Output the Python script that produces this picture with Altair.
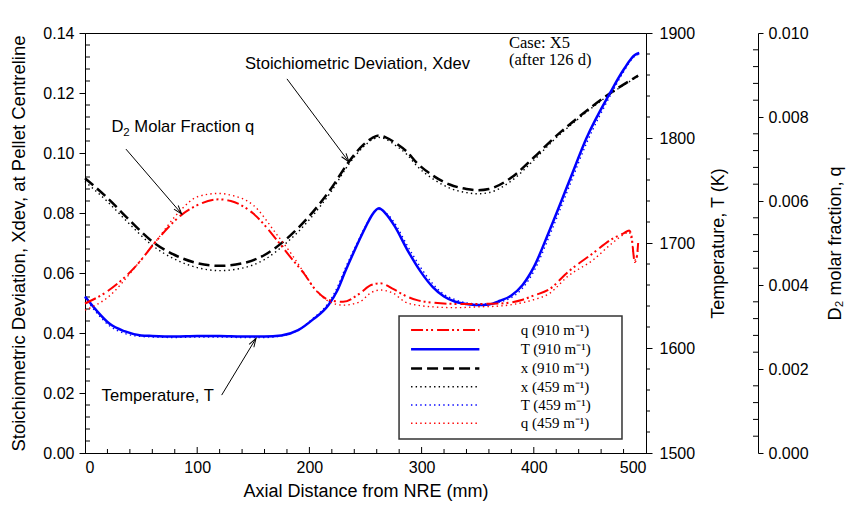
import altair as alt
import pandas as pd

# ---------------- data ----------------
# Stoichiometric deviation Xdev (left axis)
x_xdev = [0, 20, 40, 60, 80, 100, 120, 140, 160, 180, 200, 210, 220, 235, 248, 256,
          262, 268, 278, 287, 296, 310, 325, 340, 350, 360, 380, 400, 418, 440, 468, 493]
xdev_910 = [0.0916, 0.0850, 0.0775, 0.0705, 0.0660, 0.0633, 0.0624, 0.0632, 0.0660, 0.0715,
            0.0790, 0.0835, 0.0885, 0.0970, 0.1027, 0.1050, 0.1058, 0.1052, 0.1030, 0.1004,
            0.0966, 0.0925, 0.0895, 0.0880, 0.0876, 0.0880, 0.0918, 0.0985, 0.1050, 0.1120,
            0.1199, 0.1258]
xdev_459 = [0.0905, 0.0838, 0.0762, 0.0692, 0.0646, 0.0618, 0.0608, 0.0616, 0.0645, 0.0702,
            0.0778, 0.0824, 0.0875, 0.0962, 0.1020, 0.1044, 0.1052, 0.1046, 0.1022, 0.0995,
            0.0956, 0.0914, 0.0883, 0.0868, 0.0864, 0.0868, 0.0907, 0.0976, 0.1044, 0.1115,
            0.1196, 0.1256]

# Temperature T (first right axis)
x_temp = [0, 10, 22, 35, 50, 60, 80, 100, 120, 140, 160, 175, 190, 203, 217, 225, 232, 239,
          250, 256, 262, 268, 276, 287, 299, 310, 320, 330, 340, 350, 360, 370, 380, 390,
          400, 414, 432, 447, 468, 480, 490, 494]
temp_910 = [1649, 1636, 1623, 1616, 1612, 1611.5, 1611, 1611.5, 1611.5, 1611, 1611, 1612,
            1617, 1627, 1641, 1655, 1673, 1690, 1715, 1727, 1733, 1728, 1716, 1694, 1673,
            1658, 1649, 1644, 1642, 1641, 1641.5, 1645, 1650, 1660, 1677, 1712, 1760, 1800,
            1843, 1865, 1879, 1881]
temp_459 = [1648, 1634, 1621, 1614, 1611, 1610.5, 1610, 1610.5, 1610.5, 1610, 1610, 1611.5,
            1617, 1628, 1643, 1658, 1676, 1692, 1716, 1727, 1732, 1729, 1719, 1698, 1677,
            1661, 1651, 1646, 1643, 1642, 1642, 1644, 1648, 1657, 1673, 1707, 1755, 1795,
            1840, 1863, 1878, 1880]

# D2 molar fraction q (second right axis)
x_q = [0, 20, 47, 62, 86, 100, 119, 130, 150, 171, 185, 195, 205, 218, 230, 245, 255, 263,
       275, 285, 296, 310, 330, 350, 370, 390, 400, 414, 430, 453, 470, 480, 485, 487, 490,
       492, 493]
q_910 = [0.00356, 0.00385, 0.0045, 0.0050, 0.00567, 0.0059, 0.00604, 0.0060, 0.0057, 0.00507,
         0.0046, 0.00428, 0.0039, 0.00364, 0.0036, 0.0038, 0.0040, 0.00404, 0.0039, 0.00375,
         0.00364, 0.00358, 0.00355, 0.00355, 0.00356, 0.00365, 0.00375, 0.0039, 0.0043,
         0.00476, 0.0051, 0.00523, 0.0053, 0.00518, 0.00455, 0.0047, 0.0050]
q_459 = [0.0034, 0.0037, 0.0045, 0.0050, 0.0058, 0.0061, 0.00618, 0.00614, 0.0059, 0.0052,
         0.0047, 0.0043, 0.0039, 0.0036, 0.00352, 0.0036, 0.00382, 0.00388, 0.0038, 0.0036,
         0.00352, 0.00348, 0.00346, 0.00348, 0.0035, 0.00358, 0.00365, 0.0038, 0.0042,
         0.0046, 0.0050, 0.0052, 0.00526, 0.0051, 0.0046, 0.0047, 0.0048]

# axis ticks
x_major = [0, 100, 200, 300, 400, 500]
x_minor = [v for v in range(20, 500, 20) if v % 100 != 0]
xdev_major = [0.00, 0.02, 0.04, 0.06, 0.08, 0.10, 0.12, 0.14]
xdev_minor = [round(i * 0.004, 3) for i in range(1, 35) if i % 5 != 0]
temp_major = [1500, 1600, 1700, 1800, 1900]
temp_minor = [v for v in range(1520, 1900, 20) if v % 100 != 0]
q_major = [0.000, 0.002, 0.004, 0.006, 0.008, 0.010]
q_minor = [round(i * 0.0004, 4) for i in range(1, 25) if i % 5 != 0]

# legend
legend_labels = ["q (910 m\u207b\u00b9)", "T (910 m\u207b\u00b9)", "x (910 m\u207b\u00b9)",
                 "x (459 m\u207b\u00b9)", "T (459 m\u207b\u00b9)", "q (459 m\u207b\u00b9)"]
legend_rows = [0.0410, 0.0346, 0.0282, 0.0221, 0.0160, 0.0099]   # Xdev units
legend_line_x = [290.6, 351.5]
legend_text_x = 388.3
legend_box = dict(x=279.9, x2=478.6, v=0.0457, v2=0.0047)

# annotations (x in mm, y in Xdev units)
ann_sans = pd.DataFrame({
    "x": [142.6, 23.6, 44.0, 14.8],
    "v": [0.1297, 0.1087, 0.1087, 0.0190],
    "label": ["Stoichiometric Deviation, Xdev", "D", "Molar Fraction q", "Temperature, T"],
})
ann_sub = pd.DataFrame({"x": [34.0], "v": [0.1066], "label": ["2"]})
ann_case = pd.DataFrame({"x": [377.9, 377.9], "v": [0.1367, 0.1310],
                         "label": ["Case: X5", "(after 126 d)"]})
arrows = pd.DataFrame({
    "x": [180.0, 36.5, 121.8], "v": [0.1247, 0.1013, 0.0193],
    "x2": [235.3, 86.2, 152.4], "v2": [0.0970, 0.0797, 0.0382],
    "ang": [143.2, 139.4, 31.2],
})

# ---------------- chart ----------------
W, H = 561, 420
FONT = "Liberation Sans"
SERIF = "Liberation Serif"
QOFF = 112

X = alt.X("x:Q", scale=alt.Scale(domain=[0, 500], nice=False, zero=False),
          axis=alt.Axis(values=x_major, format="d", ticks=False, labelPadding=6,
                        title="Axial Distance from NRE (mm)", titlePadding=7))

Y_X = alt.Y("v:Q", scale=alt.Scale(domain=[0, 0.14], nice=False, zero=False),
            axis=alt.Axis(orient="left", values=xdev_major, format=".2f", tickSize=6,
                          labelPadding=5,
                          title="Stoichiometric Deviation, Xdev,  at Pellet Centreline",
                          titleX=-67, titleY=H / 2, titleAngle=270, titleAlign="center",
                          titleBaseline="middle", titleFontSize=18.5))
Y_T = alt.Y("v:Q", scale=alt.Scale(domain=[1500, 1900], nice=False, zero=False),
            axis=alt.Axis(orient="right", values=temp_major, format="d", tickSize=6,
                          labelPadding=7, title="Temperature, T (K)",
                          titleX=72, titleY=H / 2, titleAngle=270, titleAlign="center",
                          titleBaseline="middle"))
Y_Q = alt.Y("v:Q", scale=alt.Scale(domain=[0, 0.010], nice=False, zero=False),
            axis=alt.Axis(orient="right", offset=QOFF, values=q_major, format=".3f",
                          tickSize=5, labelPadding=5, title="D\u2082 molar fraction, q",
                          titleX=77, titleY=H / 2, titleAngle=270, titleAlign="center",
                          titleBaseline="middle"))
Y_A = alt.Y("v:Q", scale=alt.Scale(domain=[0, 0.14], nice=False, zero=False), axis=None)

DOT = [1.4, 3.2]
QDASH = [12, 3, 2, 3, 2, 4]
XDASH = [11, 5]


def line(x, v, y, **style):
    return alt.Chart(pd.DataFrame({"x": x, "v": v})).mark_line(
        interpolate="monotone", **style).encode(x=X, y=y)


# black group (Xdev)
black = alt.layer(
    line(x_xdev, xdev_459, Y_X, color="black", strokeWidth=1.4, strokeDash=DOT),
    line(x_xdev, xdev_910, Y_X, color="black", strokeWidth=2.5, strokeDash=XDASH),
    alt.Chart(pd.DataFrame({"x": x_minor})).mark_rule(color="black", strokeWidth=1).encode(
        x=X, y=alt.value(H), y2=alt.value(H - 4)),
    alt.Chart(pd.DataFrame({"x": x_major[1:-1]})).mark_rule(color="black", strokeWidth=1).encode(
        x=X, y=alt.value(H), y2=alt.value(H - 6)),
    alt.Chart(pd.DataFrame({"v": xdev_minor})).mark_rule(color="black", strokeWidth=1).encode(
        y=Y_X, x=alt.value(0), x2=alt.value(5)),
)

# blue group (Temperature)
blue = alt.layer(
    line(x_temp, temp_459, Y_T, color="#0000ff", strokeWidth=1.4, strokeDash=DOT),
    line(x_temp, temp_910, Y_T, color="#0000ff", strokeWidth=2.5),
    alt.Chart(pd.DataFrame({"v": temp_minor})).mark_rule(color="black", strokeWidth=1).encode(
        y=Y_T, x=alt.value(W), x2=alt.value(W + 4)),
)

# red group (q)
red = alt.layer(
    line(x_q, q_459, Y_Q, color="#ff0000", strokeWidth=1.4, strokeDash=DOT),
    line(x_q, q_910, Y_Q, color="#ff0000", strokeWidth=2, strokeDash=QDASH),
    alt.Chart(pd.DataFrame({"v": q_minor})).mark_rule(color="black", strokeWidth=1).encode(
        y=Y_Q, x=alt.value(W + QOFF - 5), x2=alt.value(W + QOFF)),
)

# annotation / legend group
legend_styles = [
    dict(color="#ff0000", strokeWidth=2, strokeDash=QDASH),
    dict(color="#0000ff", strokeWidth=2.5),
    dict(color="black", strokeWidth=2.5, strokeDash=XDASH),
    dict(color="black", strokeWidth=1.4, strokeDash=DOT),
    dict(color="#0000ff", strokeWidth=1.4, strokeDash=DOT),
    dict(color="#ff0000", strokeWidth=1.4, strokeDash=DOT),
]

ann_layers = [
    alt.Chart(pd.DataFrame({"x": [legend_box["x"]], "x2": [legend_box["x2"]],
                            "v": [legend_box["v"]], "v2": [legend_box["v2"]]}))
    .mark_rect(fill="white", stroke="#333333", strokeWidth=1.5)
    .encode(x=X, x2="x2:Q", y=Y_A, y2="v2:Q"),
]
for row_v, st in zip(legend_rows, legend_styles):
    ann_layers.append(
        alt.Chart(pd.DataFrame({"x": legend_line_x, "v": [row_v, row_v]}))
        .mark_line(**st).encode(x=X, y=Y_A))
ann_layers += [
    alt.Chart(pd.DataFrame({"x": [legend_text_x] * 6, "v": legend_rows, "label": legend_labels}))
    .mark_text(align="left", baseline="middle", font=SERIF, fontSize=15, color="black")
    .encode(x=X, y=Y_A, text="label:N"),
    alt.Chart(ann_sans).mark_text(align="left", baseline="middle", font=FONT, fontSize=16.6,
                                  color="black").encode(x=X, y=Y_A, text="label:N"),
    alt.Chart(ann_sub).mark_text(align="left", baseline="middle", font=FONT, fontSize=11.5,
                                 color="black").encode(x=X, y=Y_A, text="label:N"),
    alt.Chart(ann_case).mark_text(align="left", baseline="middle", font=SERIF, fontSize=16.5,
                                  color="black").encode(x=X, y=Y_A, text="label:N"),
    alt.Chart(arrows).mark_rule(color="black", strokeWidth=1).encode(
        x=X, x2="x2:Q", y=Y_A, y2="v2:Q"),
    alt.Chart(arrows).mark_point(shape="M-0.32,1L0,0L0.32,1", filled=False, color="black",
                                 strokeWidth=1, size=300, opacity=1).encode(
        x=alt.X("x2:Q", scale=alt.Scale(domain=[0, 500], nice=False, zero=False)),
        y=alt.Y("v2:Q", scale=alt.Scale(domain=[0, 0.14], nice=False, zero=False), axis=None),
        angle=alt.Angle("ang:Q", scale=None)),
]
annot = alt.layer(*ann_layers)

chart = (
    alt.layer(black, blue, red, annot)
    .resolve_scale(y="independent")
    .properties(width=W, height=H, autosize="none", background="white",
                padding={"left": 85, "top": 33, "right": 849 - 85 - W, "bottom": 508 - 33 - H})
    .configure_view(stroke="black", strokeWidth=1)
    .configure_axis(labelFont=FONT, labelFontSize=16, labelColor="black", titleFont=FONT,
                    titleFontSize=18, titleFontWeight="normal", titleColor="black",
                    domainColor="black", tickColor="black", grid=False)
)

chart.save("out.html", embed_options={"renderer": "svg", "actions": False})
